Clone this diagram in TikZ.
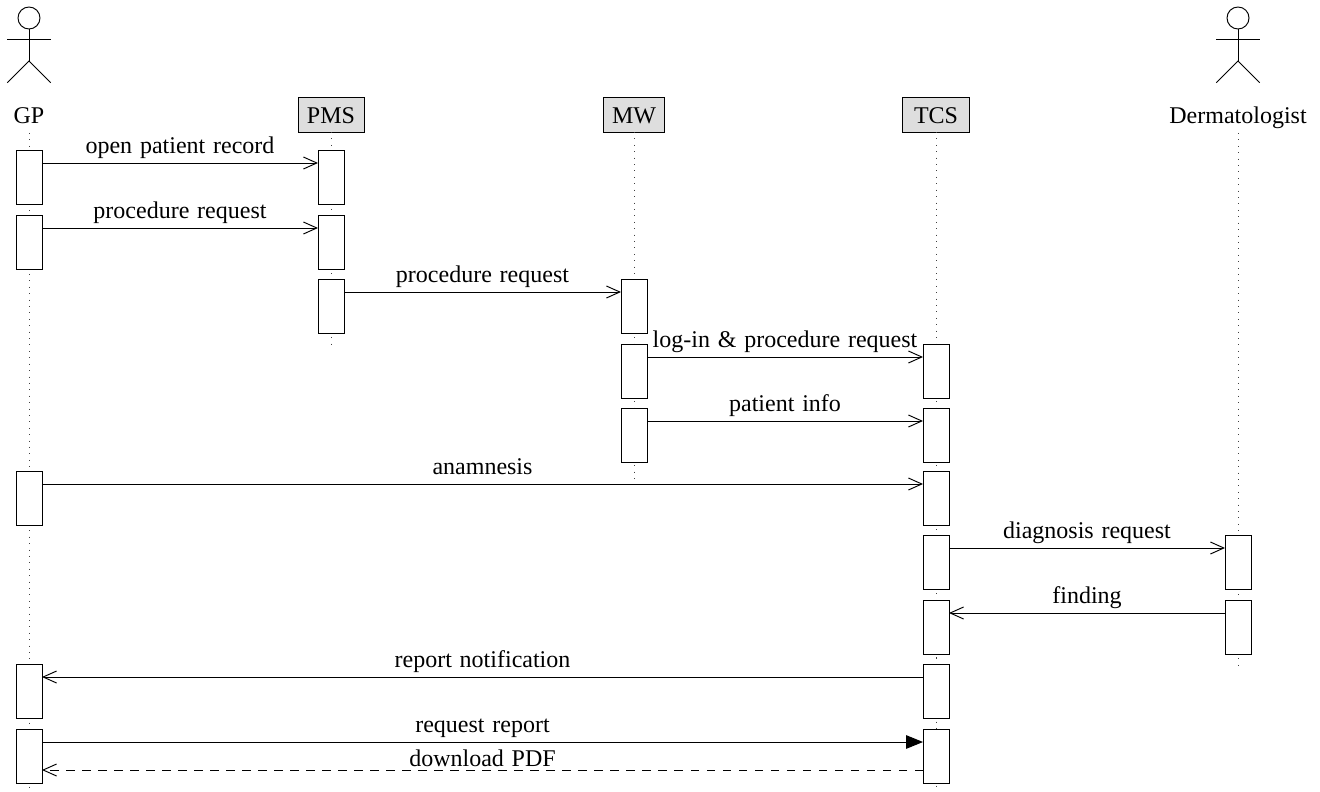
\documentclass[tikz,border=0pt]{standalone}
\usepackage{fontspec}
\setmainfont[WordSpace=1.3]{Liberation Serif}
\usetikzlibrary{arrows.meta,calc}
\tikzset{
  x=0.41667pt,y=-0.41667pt,
  every path/.style={line width=0.4pt},
  life/.style={line width=0.4pt,dash pattern=on 0.42pt off 2.25pt,black!75},
  block/.style={draw,fill=white,line width=0.4pt,minimum width=10.83pt,minimum height=22.5pt,inner sep=0pt,outer sep=0pt},
  comp/.style={draw,fill=black!13,line width=0.4pt,minimum height=14.2pt,inner sep=0pt,outer sep=0pt,text height=6.8pt,text depth=0pt},
  who/.style={inner sep=0pt,outer sep=0pt,anchor=base},
  msg/.style={-{Straight Barb[length=5.6pt,width=5pt,line width=0.4pt]}},
  req/.style={-{Triangle[length=7pt,width=5.6pt]}},
  rep/.style={dash pattern=on 3.5pt off 3.17pt,-{Straight Barb[length=5.6pt,width=5pt,line width=0.4pt]}},
  lab/.style={midway,anchor=base,inner sep=0pt,outer sep=0pt,yshift=4pt},
  labclose/.style={midway,anchor=base,inner sep=0pt,outer sep=0pt,yshift=1.6pt}
}
\newcommand{\actor}[2]{%
  \node[draw,circle,line width=0.4pt,minimum size=9.17pt,inner sep=0pt,outer sep=0pt] (#2h) at (#1,18) {};
  \coordinate (#2hip) at (#1,61);
  \coordinate (#2la) at ($(#1,39)+(-21.7,0)$);
  \coordinate (#2ra) at ($(#1,39)+(21.7,0)$);
  \coordinate (#2lf) at ($(#1,61)+(-21.7,21.7)$);
  \coordinate (#2rf) at ($(#1,61)+(21.7,21.7)$);
  \draw (#2h.south) -- (#2hip);
  \draw (#2la) -- (#2ra);
  \draw (#2lf) -- (#2hip) -- (#2rf);
}
\begin{document}
\begin{tikzpicture}
\useasboundingbox (0,0) rectangle (1320,792);

% actors and heads
\actor{29}{gp}
\actor{1238}{de}
\node[who] (GP) at (29,123) {GP};
\node[who] (DE) at (1238,123) {Dermatologist};
\node[comp,minimum width=27.5pt] (PMS) at (331,115) {PMS};
\node[comp,minimum width=25.5pt] (MW) at (634,115) {MW};
\node[comp,minimum width=28pt] (TCS) at (936,115) {TCS};

% life lines
\coordinate (GPs) at (29,133);
\coordinate (DEs) at (1238,133);
\coordinate (GPe) at (29,792);
\coordinate (PMSe) at (331,346);
\coordinate (MWe) at (634,481);
\coordinate (TCSe) at (936,792);
\coordinate (DEe) at (1238,667);
\draw[life] (GPs) -- (GPe);
\draw[life] (PMS.south) -- (PMSe);
\draw[life] (MW.south) -- (MWe);
\draw[life] (TCS.south) -- (TCSe);
\draw[life] (DEs) -- (DEe);

% activation blocks
\node[block] (a1) at (29,177) {};
\node[block] (b1) at (331,177) {};
\node[block] (a2) at (29,242) {};
\node[block] (b2) at (331,242) {};
\node[block] (b3) at (331,306) {};
\node[block] (c3) at (634,306) {};
\node[block] (c4) at (634,371) {};
\node[block] (d4) at (936,371) {};
\node[block] (c5) at (634,435) {};
\node[block] (d5) at (936,435) {};
\node[block] (a6) at (29,498) {};
\node[block] (d6) at (936,498) {};
\node[block] (d7) at (936,562) {};
\node[block] (e7) at (1238,562) {};
\node[block] (d8) at (936,627) {};
\node[block] (e8) at (1238,627) {};
\node[block] (a9) at (29,691) {};
\node[block] (d9) at (936,691) {};
\node[block] (a10) at (29,756) {};
\node[block] (d10) at (936,756) {};

% messages
\draw[msg] ($(a1.north east)+(0,13)$) -- ($(b1.north west)+(0,13)$) node[lab] {open patient record};
\draw[msg] ($(a2.north east)+(0,13)$) -- ($(b2.north west)+(0,13)$) node[lab] {procedure request};
\draw[msg] ($(b3.north east)+(0,13)$) -- ($(c3.north west)+(0,13)$) node[lab] {procedure request};
\draw[msg] ($(c4.north east)+(0,13)$) -- ($(d4.north west)+(0,13)$) node[lab] {log-in \& procedure request};
\draw[msg] ($(c5.north east)+(0,13)$) -- ($(d5.north west)+(0,13)$) node[lab] {patient info};
\draw[msg] ($(a6.north east)+(0,13)$) -- ($(d6.north west)+(0,13)$) node[lab] {anamnesis};
\draw[msg] ($(d7.north east)+(0,13)$) -- ($(e7.north west)+(0,13)$) node[lab] {diagnosis request};
\draw[msg] ($(e8.north west)+(0,13)$) -- ($(d8.north east)+(0,13)$) node[lab] {finding};
\draw[msg] ($(d9.north west)+(0,13)$) -- ($(a9.north east)+(0,13)$) node[lab] {report notification};
\draw[req] ($(a10.north east)+(0,13)$) -- ($(d10.north west)+(0,13)$) node[lab] {request report};
\draw[rep] ($(d10.north west)+(0,41)$) -- ($(a10.north east)+(0,41)$) node[labclose] {download PDF};
\end{tikzpicture}
\end{document}
